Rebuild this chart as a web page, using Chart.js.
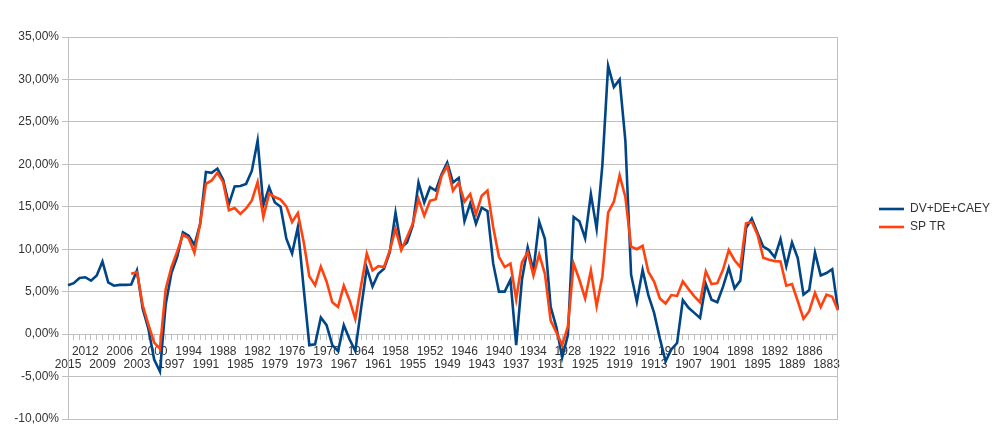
<!DOCTYPE html>
<html>
<head>
<meta charset="utf-8">
<script src="https://cdn.jsdelivr.net/npm/chart.js@4"></script>
<style>
html,body{margin:0;padding:0;background:#fff;}
#wrap{width:1000px;height:444px;}
</style>
</head>
<body>
<div id="wrap"><canvas id="c" width="1000" height="444"></canvas></div>
<script>
// Years, newest first (2015 .. 1881)
const years = [];
for (let y = 2015; y >= 1881; y--) years.push(String(y));

// DV+DE+CAEY (%), 2015 -> 1881
const dvDeCaey = [
  5.75, 6.0, 6.6, 6.7, 6.3, 6.9, 8.55, 6.1, 5.7, 5.8,
  5.8, 5.85, 7.5, 3.0, 0.6, -3.0, -4.4, 3.5, 7.2, 9.1,
  12.0, 11.6, 10.5, 13.0, 19.1, 19.0, 19.5, 18.2, 15.3, 17.4,
  17.45, 17.7, 19.25, 22.8, 15.2, 17.3, 15.5, 15.0, 11.25, 9.5,
  12.6, 5.5, -1.3, -1.2, 1.95, 1.05, -1.3, -2.0, 1.05, -0.6,
  -2.0, 3.0, 7.8, 5.6, 7.1, 7.7, 9.65, 14.3, 10.2, 10.8,
  12.8, 17.85, 15.5, 17.3, 16.9, 18.8, 20.2, 17.85, 18.4, 13.3,
  15.4, 13.0, 14.9, 14.5, 8.3, 5.0, 5.0, 6.4, -1.3, 6.4,
  10.2, 7.5, 13.25, 11.2, 3.2, 0.8, -2.75, -0.1, 13.8, 13.3,
  11.3, 16.5, 12.4, 19.9, 31.6, 29.1, 30.0, 22.8, 7.0, 3.8,
  7.55, 4.6, 2.5, -0.5, -3.2, -1.8, -1.05, 4.0, 3.1, 2.5,
  1.9, 5.9, 4.05, 3.75, 5.6, 7.8, 5.4, 6.3, 12.5, 13.6,
  11.9, 10.3, 9.9, 9.05, 11.2, 8.0, 10.8, 8.95, 4.65, 5.2,
  9.6, 6.9, 7.2, 7.65, 2.9
];

// SP TR (%), 2015 -> 1881 (no data before 2004)
const spTr = [
  null, null, null, null, null, null, null, null, null, null,
  null, 7.1, 7.3, 3.4, 1.1, -1.0, -1.7, 5.3, 7.9, 9.7,
  11.7, 11.3, 9.6, 13.0, 17.7, 18.1, 19.0, 17.9, 14.6, 14.85,
  14.15, 14.8, 15.75, 17.9, 13.8, 16.55, 16.15, 15.85, 15.05, 13.2,
  14.25, 10.9, 6.8, 5.75, 7.95, 6.2, 3.75, 3.2, 5.7, 4.0,
  1.8, 5.7, 9.5, 7.5, 8.0, 7.9, 9.85, 12.4, 9.9, 11.4,
  13.0, 15.9, 13.95, 15.7, 15.9, 18.6, 19.8, 16.9, 17.85, 15.6,
  16.5, 14.1, 16.3, 16.9, 12.6, 9.1, 7.9, 8.3, 4.1, 8.45,
  9.65, 6.9, 9.4, 7.1, 1.6, 0.2, -1.3, 0.9, 8.3, 6.4,
  4.2, 7.5, 3.3, 6.8, 14.3, 15.6, 18.7, 16.15, 10.3, 10.0,
  10.4, 7.35, 6.2, 4.2, 3.6, 4.6, 4.5, 6.2, 5.3, 4.45,
  3.75, 7.4, 5.9, 6.0, 7.6, 9.9, 8.7, 7.9, 13.05, 13.2,
  11.7, 9.0, 8.75, 8.6, 8.55, 5.7, 5.9, 3.9, 1.8, 2.7,
  4.85, 3.2, 4.65, 4.4, 2.8
];

const seriesNames = ['DV+DE+CAEY', 'SP TR'];
const yTicks = { min: -10, max: 35, step: 5 };

const FONT = "'Liberation Sans', Arial, sans-serif";
const GRID = '#c0c0c0';
const TEXT = '#333333';

new Chart(document.getElementById('c'), {
  type: 'line',
  data: {
    labels: years,
    datasets: [
      { label: seriesNames[0], data: dvDeCaey, borderColor: '#004586', backgroundColor: '#004586',
        borderWidth: 2.6, pointRadius: 0, tension: 0, xAxisID: 'x', yAxisID: 'y', order: 1 },
      { label: seriesNames[1], data: spTr, borderColor: '#ff420e', backgroundColor: '#ff420e',
        borderWidth: 2.6, pointRadius: 0, tension: 0, xAxisID: 'x', yAxisID: 'y', order: 0 }
    ]
  },
  options: {
    responsive: false,
    animation: false,
    layout: { padding: { left: 0, right: 0, top: 0, bottom: 8 } },
    plugins: {
      tooltip: { enabled: false },
      legend: {
        position: 'right',
        labels: {
          usePointStyle: true, pointStyle: 'line', pointStyleWidth: 25,
          font: { family: FONT, size: 12 }, color: TEXT, padding: 6,
          sort: (a, b) => a.datasetIndex - b.datasetIndex
        }
      }
    },
    scales: {
      x: {
        type: 'category',
        position: { y: 0 },
        offset: false,
        grid: { drawOnChartArea: false, drawTicks: true, tickLength: 5, color: GRID },
        border: { display: true, color: GRID },
        ticks: {
          autoSkip: false, maxRotation: 0, minRotation: 0, padding: 6,
          color: TEXT, font: { family: FONT, size: 12, lineHeight: 1.1 },
          callback: function (val, i) {
            if (i % 3 !== 0) return '';
            const lab = this.getLabelForValue(val);
            return ((i / 3) % 2 === 0) ? ['', lab] : [lab];
          }
        }
      },
      y: {
        position: 'left',
        min: yTicks.min, max: yTicks.max,
        grid: { color: GRID, tickLength: 6, drawTicks: true },
        border: { display: true, color: GRID },
        ticks: {
          stepSize: yTicks.step, padding: 3, color: TEXT,
          font: { family: FONT, size: 12 },
          callback: (v) => v.toFixed(2).replace('.', ',') + '%'
        },
        afterFit: (s) => { s.width = 68; }
      },
      xTop: {
        type: 'linear', position: 'top', display: true,
        grid: { display: false }, border: { display: false }, ticks: { display: false },
        afterFit: (s) => { s.height = 37; }
      },
      xBot: {
        type: 'linear', position: 'bottom', display: true,
        grid: { display: false }, border: { display: false }, ticks: { display: false },
        afterFit: (s) => { s.height = 17; }
      },
      yRight: {
        type: 'linear', position: 'right', display: true,
        grid: { display: false }, border: { display: true, color: GRID }, ticks: { display: false },
        afterFit: (s) => { s.width = 35; }
      }
    }
  }
});
</script>
</body>
</html>
